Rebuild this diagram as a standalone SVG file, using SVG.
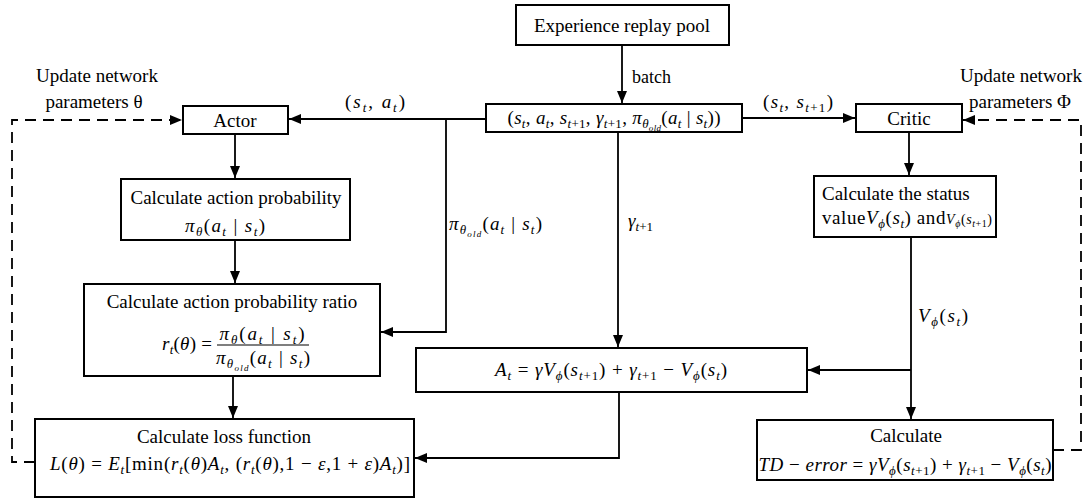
<svg xmlns="http://www.w3.org/2000/svg" width="1089" height="502" viewBox="0 0 1089 502">
<defs>
<style>
.t{font-family:"Liberation Serif",serif;font-size:19px;fill:#000}
.m{text-anchor:middle}
.i{font-style:italic}
.u{font-style:italic;font-size:13px}
.n{font-size:13px}
.o{font-style:italic;font-size:9px}
.box{fill:#fff;stroke:#000;stroke-width:2}
.c{fill:none;stroke:#000;stroke-width:1.8}
.d{fill:none;stroke:#000;stroke-width:1.8;stroke-dasharray:11 7}
</style>
<marker id="ah" markerUnits="userSpaceOnUse" markerWidth="12" markerHeight="10" refX="12" refY="5" orient="auto">
<path d="M0,0 L12,5 L0,10 Z" fill="#000"/>
</marker>
</defs>
<rect width="1089" height="502" fill="#fff"/>

<g id="connectors">
<path class="c" d="M622,45 V103" marker-end="url(#ah)"/>
<path class="c" d="M486,119 H289" marker-end="url(#ah)"/>
<path class="c" d="M446,119 V332 H381" marker-end="url(#ah)"/>
<path class="c" d="M742,118 H855" marker-end="url(#ah)"/>
<path class="c" d="M618,132 V347" marker-end="url(#ah)"/>
<path class="c" d="M235,134 V178" marker-end="url(#ah)"/>
<path class="c" d="M235,240 V283" marker-end="url(#ah)"/>
<path class="c" d="M233,376 V418" marker-end="url(#ah)"/>
<path class="c" d="M619,392 V458 H415" marker-end="url(#ah)"/>
<path class="c" d="M909,132 V175" marker-end="url(#ah)"/>
<path class="c" d="M911,237 V419" marker-end="url(#ah)"/>
<path class="c" d="M911,370 H808" marker-end="url(#ah)"/>
<path class="d" d="M35,462 H12 V120 H182" marker-end="url(#ah)"/>
<path class="d" d="M1053,450 H1081 V120 H963" marker-end="url(#ah)"/>
<text class="t" x="632" y="83" style="font-size:18px">batch</text>
<text class="t m" x="375" y="108" textLength="60" lengthAdjust="spacing">(<tspan class="i">s</tspan><tspan class="u" dy="4">t</tspan><tspan dy="-4">, </tspan><tspan class="i">a</tspan><tspan class="u" dy="4">t</tspan><tspan dy="-4">)</tspan></text>
<text class="t m" x="798" y="108" textLength="70" lengthAdjust="spacing">(<tspan class="i">s</tspan><tspan class="u" dy="4">t</tspan><tspan dy="-4">, </tspan><tspan class="i">s</tspan><tspan class="n" dy="4"><tspan class="i">t</tspan>+1</tspan><tspan dy="-4">)</tspan></text>
<text class="t" x="449" y="230" textLength="93" lengthAdjust="spacing"><tspan class="i">π</tspan><tspan class="u" dy="4">θ</tspan><tspan class="o" dy="3">old</tspan><tspan dy="-7">(</tspan><tspan class="i">a</tspan><tspan class="u" dy="4">t</tspan><tspan dy="-4"> | </tspan><tspan class="i">s</tspan><tspan class="u" dy="4">t</tspan><tspan dy="-4">)</tspan></text>
<text class="t" x="628" y="227"><tspan class="i">γ</tspan><tspan class="n" dy="4"><tspan class="i">t</tspan>+1</tspan></text>
<text class="t" x="918" y="322" textLength="50" lengthAdjust="spacing"><tspan class="i">V</tspan><tspan class="u" dy="4">ϕ</tspan><tspan dy="-4">(</tspan><tspan class="i">s</tspan><tspan class="u" dy="4">t</tspan><tspan dy="-4">)</tspan></text>
<text class="t m" x="97" y="82">Update network</text>
<text class="t m" x="94" y="108">parameters θ</text>
<text class="t m" x="1021" y="82">Update network</text>
<text class="t m" x="1020" y="108">parameters Φ</text>
</g>

<g id="pool">
<rect class="box" x="516" y="5" width="213" height="40"/>
<text class="t m" x="622" y="32">Experience replay pool</text>
</g>

<g id="tuple">
<rect class="box" x="486" y="104" width="256" height="28"/>
<text class="t m" x="614" y="124" textLength="213" lengthAdjust="spacing">(<tspan class="i">s</tspan><tspan class="u" dy="4">t</tspan><tspan dy="-4">, </tspan><tspan class="i">a</tspan><tspan class="u" dy="4">t</tspan><tspan dy="-4">, </tspan><tspan class="i">s</tspan><tspan class="n" dy="4"><tspan class="i">t</tspan>+1</tspan><tspan dy="-4">, </tspan><tspan class="i">γ</tspan><tspan class="n" dy="4"><tspan class="i">t</tspan>+1</tspan><tspan dy="-4">, </tspan><tspan class="i">π</tspan><tspan class="u" dy="4">θ</tspan><tspan class="o" dy="3">old</tspan><tspan dy="-7">(</tspan><tspan class="i">a</tspan><tspan class="u" dy="4">t</tspan><tspan dy="-4"> | </tspan><tspan class="i">s</tspan><tspan class="u" dy="4">t</tspan><tspan dy="-4">))</tspan></text>
</g>

<g id="actor">
<rect class="box" x="183" y="106" width="105" height="28"/>
<text class="t m" x="235" y="127">Actor</text>
</g>

<g id="critic">
<rect class="box" x="856" y="104" width="106" height="28"/>
<text class="t m" x="909" y="125">Critic</text>
</g>

<g id="prob">
<rect class="box" x="121" y="179" width="229" height="61"/>
<text class="t m" x="236" y="204">Calculate action probability</text>
<text class="t m" x="225" y="232" textLength="80" lengthAdjust="spacing"><tspan class="i">π</tspan><tspan class="u" dy="4">θ</tspan><tspan dy="-4">(</tspan><tspan class="i">a</tspan><tspan class="u" dy="4">t</tspan><tspan dy="-4"> | </tspan><tspan class="i">s</tspan><tspan class="u" dy="4">t</tspan><tspan dy="-4">)</tspan></text>
</g>

<g id="ratio">
<rect class="box" x="84" y="284" width="296" height="92"/>
<text class="t m" x="232" y="308">Calculate action probability ratio</text>
<text class="t" x="162" y="350" textLength="50" lengthAdjust="spacing"><tspan class="i">r</tspan><tspan class="u" dy="4">t</tspan><tspan dy="-4">(</tspan><tspan class="i">θ</tspan>) =</text>
<line x1="217" y1="345" x2="309" y2="345" stroke="#000" stroke-width="1.2"/>
<text class="t m" x="262" y="340" textLength="85" lengthAdjust="spacing"><tspan class="i">π</tspan><tspan class="u" dy="4">θ</tspan><tspan dy="-4">(</tspan><tspan class="i">a</tspan><tspan class="u" dy="4">t</tspan><tspan dy="-4"> | </tspan><tspan class="i">s</tspan><tspan class="u" dy="4">t</tspan><tspan dy="-4">)</tspan></text>
<text class="t m" x="263" y="364" textLength="94" lengthAdjust="spacing"><tspan class="i">π</tspan><tspan class="u" dy="4">θ</tspan><tspan class="o" dy="3">old</tspan><tspan dy="-7">(</tspan><tspan class="i">a</tspan><tspan class="u" dy="4">t</tspan><tspan dy="-4"> | </tspan><tspan class="i">s</tspan><tspan class="u" dy="4">t</tspan><tspan dy="-4">)</tspan></text>
</g>

<g id="loss">
<rect class="box" x="35" y="419" width="379" height="78"/>
<text class="t m" x="224" y="443">Calculate loss function</text>
<text class="t" x="50" y="470" textLength="360" lengthAdjust="spacing"><tspan class="i">L</tspan>(<tspan class="i">θ</tspan>) = <tspan class="i">E</tspan><tspan class="u" dy="4">t</tspan><tspan dy="-4">[min(</tspan><tspan class="i">r</tspan><tspan class="u" dy="4">t</tspan><tspan dy="-4">(</tspan><tspan class="i">θ</tspan>)<tspan class="i">A</tspan><tspan class="u" dy="4">t</tspan><tspan dy="-4">, (</tspan><tspan class="i">r</tspan><tspan class="u" dy="4">t</tspan><tspan dy="-4">(</tspan><tspan class="i">θ</tspan>),1 − <tspan class="i">ε</tspan>,1 + <tspan class="i">ε</tspan>)<tspan class="i">A</tspan><tspan class="u" dy="4">t</tspan><tspan dy="-4">)]</tspan></text>
</g>

<g id="advantage">
<rect class="box" x="416" y="348" width="391" height="44"/>
<text class="t m" x="611" y="376" textLength="232" lengthAdjust="spacing"><tspan class="i">A</tspan><tspan class="u" dy="4">t</tspan><tspan dy="-4"> = </tspan><tspan class="i">γV</tspan><tspan class="u" dy="4">ϕ</tspan><tspan dy="-4">(</tspan><tspan class="i">s</tspan><tspan class="n" dy="4"><tspan class="i">t</tspan>+1</tspan><tspan dy="-4">) + </tspan><tspan class="i">γ</tspan><tspan class="n" dy="4"><tspan class="i">t</tspan>+1</tspan><tspan dy="-4"> − </tspan><tspan class="i">V</tspan><tspan class="u" dy="4">ϕ</tspan><tspan dy="-4">(</tspan><tspan class="i">s</tspan><tspan class="u" dy="4">t</tspan><tspan dy="-4">)</tspan></text>
</g>

<g id="status">
<rect class="box" x="814" y="176" width="182" height="61"/>
<text class="t" x="822" y="200">Calculate the status</text>
<text class="t" x="822" y="224" textLength="170" lengthAdjust="spacing">value<tspan class="i">V</tspan><tspan class="u" dy="4">ϕ</tspan><tspan dy="-4">(</tspan><tspan class="i">s</tspan><tspan class="u" dy="4">t</tspan><tspan dy="-4">) and</tspan><tspan class="i" style="font-size:14px">V</tspan><tspan class="u" style="font-size:10px" dy="3">ϕ</tspan><tspan style="font-size:14px" dy="-3">(</tspan><tspan class="i" style="font-size:14px">s</tspan><tspan class="n" style="font-size:10px" dy="3"><tspan class="i">t</tspan>+1</tspan><tspan style="font-size:14px" dy="-3">)</tspan></text>
</g>

<g id="td">
<rect class="box" x="757" y="420" width="296" height="60"/>
<text class="t m" x="906" y="442">Calculate</text>
<text class="t m" x="905" y="471" textLength="293" lengthAdjust="spacing"><tspan class="i">TD</tspan> − <tspan class="i">error</tspan> = <tspan class="i">γV</tspan><tspan class="u" dy="4">ϕ</tspan><tspan dy="-4">(</tspan><tspan class="i">s</tspan><tspan class="n" dy="4"><tspan class="i">t</tspan>+1</tspan><tspan dy="-4">) + </tspan><tspan class="i">γ</tspan><tspan class="n" dy="4"><tspan class="i">t</tspan>+1</tspan><tspan dy="-4"> − </tspan><tspan class="i">V</tspan><tspan class="u" dy="4">ϕ</tspan><tspan dy="-4">(</tspan><tspan class="i">s</tspan><tspan class="u" dy="4">t</tspan><tspan dy="-4">)</tspan></text>
</g>
</svg>
